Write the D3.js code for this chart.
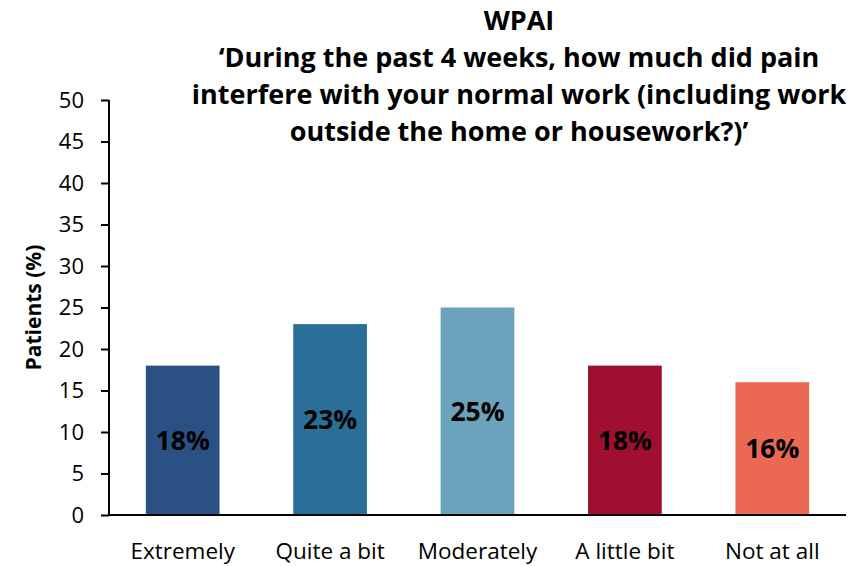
<!DOCTYPE html>
<html>
<head>
<meta charset="utf-8">
<script src="https://cdn.jsdelivr.net/npm/d3@7"></script>
<style>
  body { margin: 0; background: #fff; }
  svg { display: block; font-family: "Open Sans", Lato, sans-serif; }
</style>
</head>
<body>
<svg id="chart" width="854" height="566"></svg>
<script>
const categories = ["Extremely", "Quite a bit", "Moderately", "A little bit", "Not at all"];
const values = [18, 23, 25, 18, 16];
const barColors = ["#2B5184", "#2A6F98", "#6AA3BB", "#A10F30", "#EB6853"];
const yTicks = [0, 5, 10, 15, 20, 25, 30, 35, 40, 45, 50];
const titleLines = [
  "WPAI",
  "\u2018During the past 4 weeks, how much did pain",
  "interfere with your normal work (including work",
  "outside the home or housework?)\u2019"
];

const svg = d3.select("#chart");
const plot = { left: 109, right: 846, top: 100, bottom: 515 };

const x = d3.scaleBand().domain(categories).range([plot.left, plot.right]).paddingInner(0.5).paddingOuter(0.25);
const y = d3.scaleLinear().domain([0, 50]).range([plot.bottom, plot.top]);

// bars
svg.append("g").selectAll("rect").data(values).join("rect")
  .attr("x", (d, i) => x(categories[i]))
  .attr("width", x.bandwidth())
  .attr("y", d => y(d))
  .attr("height", d => y(0) - y(d))
  .attr("fill", (d, i) => barColors[i]);

// value labels centred in each bar
svg.append("g").selectAll("text").data(values).join("text")
  .attr("x", (d, i) => x(categories[i]) + x.bandwidth() / 2)
  .attr("y", d => (y(d) + y(0)) / 2)
  .attr("dy", "0.36em")
  .attr("text-anchor", "middle")
  .attr("font-weight", "bold")
  .attr("font-size", 26.5)
  .attr("fill", "#000")
  .text(d => d + "%");

// y axis
const yAxis = svg.append("g").attr("transform", `translate(${plot.left},0)`)
  .call(d3.axisLeft(y).tickValues(yTicks).tickSize(8).tickPadding(17));
yAxis.select(".domain").attr("stroke", "#000").attr("stroke-width", 2).attr("d", `M0,${plot.top}V${plot.bottom}`);
yAxis.selectAll(".tick line").attr("stroke", "#000").attr("stroke-width", 2);
yAxis.selectAll(".tick text").attr("font-size", 22).attr("fill", "#000").attr("font-family", "'Open Sans', sans-serif");

// x axis
const xAxis = svg.append("g").attr("transform", `translate(0,${plot.bottom})`)
  .call(d3.axisBottom(x).tickSize(0).tickPadding(28));
xAxis.select(".domain").attr("stroke", "#000").attr("stroke-width", 2).attr("d", `M${plot.left},0H${plot.right}`);
xAxis.selectAll(".tick text").attr("font-size", 22.5).attr("fill", "#000").attr("font-family", "'Open Sans', sans-serif");

// y axis title
svg.append("text")
  .attr("transform", `translate(41,${(plot.top + plot.bottom) / 2}) rotate(-90)`)
  .attr("text-anchor", "middle")
  .attr("font-weight", "bold")
  .attr("font-size", 21)
  .text("Patients (%)");

// title
svg.append("g").selectAll("text").data(titleLines).join("text")
  .attr("x", 519)
  .attr("y", (d, i) => 29.5 + i * 37.3)
  .attr("text-anchor", "middle")
  .attr("font-weight", "bold")
  .attr("font-size", 27)
  .text(d => d);
</script>
</body>
</html>
